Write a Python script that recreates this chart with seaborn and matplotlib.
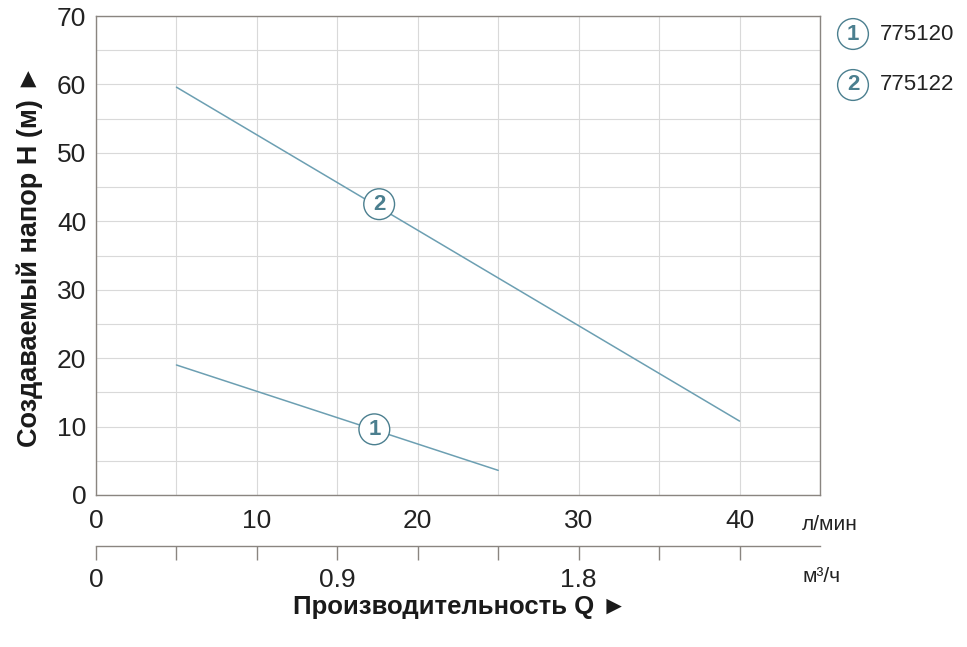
import matplotlib
matplotlib.use("Agg")
import matplotlib.pyplot as plt
import seaborn as sns
import pandas as pd

# ---- data ----
models = ["775120", "775122"]
curve_ids = ["1", "2"]
flow_1 = [5, 25]          # л/мин
head_1 = [19.0, 3.6]      # м
flow_2 = [5, 40]
head_2 = [59.6, 10.8]
label_pos_1 = (17.3, 9.6)
label_pos_2 = (17.6, 42.5)
x_ticks_lmin = [0, 10, 20, 30, 40]
m3h_tick_pos = [0, 15, 30]
m3h_tick_labels = ["0", "0.9", "1.8"]
y_ticks = [0, 10, 20, 30, 40, 50, 60, 70]

df = pd.DataFrame({
    "Q": flow_1 + flow_2,
    "H": head_1 + head_2,
    "model": [models[0]] * len(flow_1) + [models[1]] * len(flow_2),
})

sns.set_theme(style="white")
plt.rcParams["font.family"] = ["Liberation Sans", "DejaVu Sans"]

W, H = 967, 647
fig = plt.figure(figsize=(W / 100, H / 100), dpi=100)
L, R, T, B = 96, 820, 16, 495
ax = fig.add_axes([L / W, 1 - B / H, (R - L) / W, (B - T) / H])

line_col = "#6c9fb2"
mark_col = "#4b7f8f"
txt_col = "#222222"
sns.lineplot(data=df, x="Q", y="H", hue="model", palette=[line_col, line_col],
             legend=False, linewidth=1.1, ax=ax, estimator=None)

ax.set_xlim(0, 45)
ax.set_ylim(0, 70)
ax.set_xticks(range(0, 46, 5))
ax.set_yticks(range(0, 71, 5))
ax.grid(True, color="#d9d9d9", linewidth=0.8)
ax.set_axisbelow(True)
ax.set_xticklabels([str(v) if v in x_ticks_lmin else "" for v in range(0, 46, 5)])
ax.set_yticklabels([str(v) if v in y_ticks else "" for v in range(0, 71, 5)])
ax.tick_params(axis="both", length=0, labelsize=19, colors=txt_col)
ax.tick_params(axis="x", pad=10)
ax.tick_params(axis="y", pad=7)
for s in ax.spines.values():
    s.set_color("#8a8580")
    s.set_linewidth(1.0)
ax.set_xlabel("")
ax.set_ylabel("Создаваемый напор H (м) ►", fontsize=19.5, fontweight="bold",
              color="#1a1a1a", labelpad=10)

# circle markers on curves
for cid, pos in zip(curve_ids, [label_pos_1, label_pos_2]):
    ax.text(pos[0], pos[1], cid, ha="center", va="center", fontsize=16,
            fontweight="bold", color=mark_col,
            bbox=dict(boxstyle="circle,pad=0.22", fc="white", ec=mark_col, lw=1.0))

# unit label for main axis
fig.text(802 / W, 1 - 524 / H, "л/мин", fontsize=15, color=txt_col,
         ha="left", va="center")

# secondary axis (м³/ч)
y2 = 546
ax2 = fig.add_axes([L / W, 1 - y2 / H, (R - L) / W, 0.001])
ax2.set_xlim(0, 45)
ax2.set_ylim(0, 1)
ax2.set_facecolor("none")
for k in ["top", "left", "right"]:
    ax2.spines[k].set_visible(False)
ax2.spines["bottom"].set_color("#8a8580")
ax2.spines["bottom"].set_linewidth(1.0)
ax2.set_yticks([])
ax2.set_xticks(range(0, 41, 5))
ax2.set_xticklabels([m3h_tick_labels[m3h_tick_pos.index(v)] if v in m3h_tick_pos else ""
                     for v in range(0, 41, 5)])
ax2.tick_params(axis="x", bottom=True, direction="out", length=10, width=1.0,
                color="#8a8580", labelsize=19, labelcolor=txt_col, pad=6)
fig.text(802 / W, 1 - 577 / H, "м³/ч", fontsize=15, color=txt_col,
         ha="left", va="center")

fig.text(460 / W, 1 - 607 / H, "Производительность Q ►", fontsize=18.5,
         fontweight="bold", color="#1a1a1a", ha="center", va="center")

# legend
for i, (cid, name) in enumerate(zip(curve_ids, models)):
    yy = 1 - (34 + 51 * i) / H
    fig.text(853 / W, yy, cid, ha="center", va="center", fontsize=16,
             fontweight="bold", color=mark_col,
             bbox=dict(boxstyle="circle,pad=0.22", fc="white", ec=mark_col, lw=1.0))
    fig.text(880 / W, yy, name, ha="left", va="center", fontsize=16,
             color=txt_col)

fig.savefig("out.png", dpi=100)
